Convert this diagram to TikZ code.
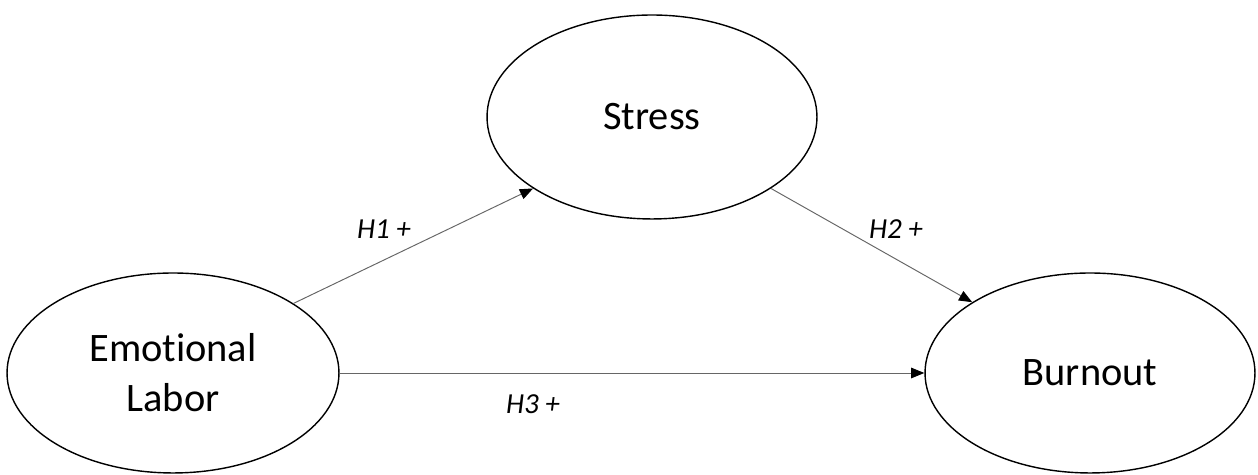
\documentclass[tikz,border=0pt]{standalone}
\usepackage{fontspec}
\setmainfont{Carlito}[Ligatures=NoCommon]
\usetikzlibrary{arrows.meta, shapes.geometric}

\begin{document}
\begin{tikzpicture}[
    x=0.02cm, y=0.02cm,
    >=Stealth,
    latent/.style={ellipse, draw=black, line width=0.8pt, fill=white, inner sep=0pt,
        align=center, font=\fontsize{23}{28.5}\selectfont},
    hyp/.style={inner sep=0pt, font=\fontsize{16.5}{20}\selectfont\itshape},
    arr/.style={-{Triangle[length=7.5pt, width=6pt, color=black]}, draw=black!60, line width=0.55pt},
]
\useasboundingbox (0,0) rectangle (1258,475);

\node[latent, minimum width=6.64cm, minimum height=4cm] (el) at (173,102) {Emotional\\Labor};
\node[latent, minimum width=6.6cm, minimum height=4.08cm] (st) at (652,358) {Stress};
\node[latent, minimum width=6.6cm, minimum height=4cm] (bo) at (1090,102) {Burnout};

\draw[arr] (el.30) -- (st.211);
\draw[arr] (st.329) -- (bo.149);
\draw[arr] (el.east) -- (bo.west);

\node[hyp] (h1) at (384,246) {H1 +};
\node[hyp] (h2) at (896,246) {H2 +};
\node[hyp] (h3) at (533,71) {H3 +};
\end{tikzpicture}
\end{document}
